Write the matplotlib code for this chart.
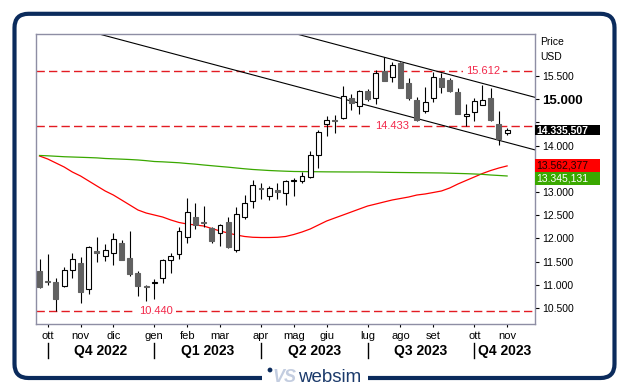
import numpy as np
import matplotlib
matplotlib.use('Agg')
import matplotlib.pyplot as plt
from matplotlib.patches import Rectangle, FancyBboxPatch, Circle
from matplotlib.lines import Line2D
import matplotlib.transforms as mtransforms

plt.rcParams['font.family'] = ['Liberation Sans', 'DejaVu Sans']
plt.rcParams['lines.scale_dashes'] = False

# ---------------- data (weekly candles, Sep 2022 - Nov 2023) ----------------
opens = [11304, 11075, 11060, 10968, 11312, 11463, 10903, 11728, 11614, 11679,
         11909, 11571, 11261, 10965, 11030, 11147, 11528, 11657, 12037, 12467,
         12355, 12224, 12106, 12347, 11756, 12468, 12806, 13095, 12920, 13049,
         12978, 13235, 13229, 13330, 13788, 14461, 14540, 14601, 15026, 14853,
         15177, 15026, 15608, 15472, 15774, 15343, 14983, 14752, 15026, 15451,
         15414, 15162, 14634, 14724, 14866, 15026, 14466, 14263]
highs = [11556, 11664, 11140, 11377, 11692, 11593, 11836, 12024, 11879, 12116,
         11966, 12159, 11297, 11000, 11118, 11556, 11692, 12239, 12864, 12756,
         12692, 12245, 12310, 12455, 12677, 12935, 13259, 13188, 13129, 13188,
         13250, 13295, 13431, 13875, 14336, 14627, 14660, 15284, 15112, 15198,
         15213, 15629, 15903, 15795, 15810, 15451, 15055, 15271, 15586, 15565,
         15465, 15248, 14890, 15026, 15306, 15248, 14737, 14379]
lows = [10940, 10989, 10440, 10960, 11153, 10614, 10795, 11498, 11506, 11433,
        11530, 11190, 10759, 10657, 10688, 11045, 11250, 11550, 11892, 12198,
        12252, 11892, 11830, 11800, 11700, 12412, 12649, 12843, 12828, 12843,
        12713, 12920, 13194, 13302, 13517, 14196, 14265, 14573, 14767, 14681,
        14955, 14897, 15390, 15362, 15240, 14983, 14530, 14698, 14946, 15142,
        15162, 14675, 14429, 14530, 14866, 14540, 14013, 14220]
closes = [10959, 11050, 10687, 11312, 11550, 10851, 11808, 11679, 11744, 11981,
          11541, 11239, 10981, 10955, 11045, 11528, 11621, 12166, 12562, 12280,
          12340, 11950, 12289, 11821, 12519, 12756, 13151, 13070, 13082, 12991,
          13231, 13255, 13345, 13797, 14293, 14552, 14525, 15069, 14909, 15170,
          15011, 15565, 15399, 15737, 15248, 15026, 14552, 14940, 15472, 15270,
          15177, 14681, 14681, 14953, 14983, 14543, 14134, 14336]

ma_red = [13776, 13711, 13625, 13539, 13431, 13345, 13237, 13129, 13022, 12935,
          12828, 12720, 12612, 12547, 12504, 12461, 12397, 12343, 12310, 12289,
          12267, 12213, 12160, 12116, 12073, 12041, 12024, 12019, 12019, 12024,
          12041, 12084, 12138, 12203, 12289, 12375, 12440, 12504, 12569, 12634,
          12698, 12741, 12785, 12828, 12860, 12892, 12935, 12957, 12989, 13022,
          13086, 13172, 13248, 13323, 13399, 13463, 13517, 13562]
ma_green = [13787, 13780, 13770, 13760, 13754, 13748, 13742, 13735, 13722, 13715,
            13708, 13700, 13690, 13675, 13657, 13650, 13640, 13630, 13614, 13600,
            13582, 13566, 13550, 13535, 13517, 13500, 13485, 13474, 13463, 13455,
            13448, 13442, 13440, 13438, 13436, 13434, 13433, 13432, 13431, 13431,
            13431, 13428, 13425, 13422, 13420, 13418, 13416, 13414, 13412, 13410,
            13405, 13400, 13395, 13388, 13380, 13366, 13356, 13345]

last_price = 14335.507
ma_red_last = 13562.377
ma_green_last = 13345.131

levels = [15612, 14433, 10440]

trend_anchor_idx = [7.7, 31.8]
trend_anchor_val = [16384, 16384]
trend_slope = -47.0

month_idx = [1, 5, 9, 14, 18, 22, 27, 31, 35, 40, 44, 48, 53, 57]
month_lbl = ['ott', 'nov', 'dic', 'gen', 'feb', 'mar', 'apr', 'mag', 'giu',
             'lug', 'ago', 'set', 'ott', 'nov']
quarter_start_idx = [1, 14, 27, 40, 53]
quarter_lbl = ['Q4 2022', 'Q1 2023', 'Q2 2023', 'Q3 2023', 'Q4 2023']

yticks = [10500, 11000, 11500, 12000, 12500, 13000, 13500, 14000, 14500, 15000, 15500]
yticks_hidden = [13500, 14500]   # covered by the value boxes in the original


def it_fmt(v, dec=0):
    s = f"{v:,.{dec}f}"
    return s.replace(',', '#').replace('.', ',').replace('#', '.')


# ---------------- figure / layout ----------------
W, H, DPI = 629, 391, 100
fig = plt.figure(figsize=(W / DPI, H / DPI), dpi=DPI)
fig.patch.set_facecolor('white')

AX_L, AX_R, AX_T, AX_B = 35.5, 535, 34, 324
ax = fig.add_axes([AX_L / W, 1 - AX_B / H, (AX_R - AX_L) / W, (AX_B - AX_T) / H])
ax.set_xlim(-0.49, 60.4)
ax.set_ylim(10155, 16405)

frame_col = '#8e8ea4'
for sp in ax.spines.values():
    sp.set_color(frame_col)
    sp.set_linewidth(1.0)

# levels
lvl_col = '#e31b23'
lvl_txt_col = '#f2284a'
level_label_idx = [54.1, 43.0, 14.2]
for lv, lx in zip(levels, level_label_idx):
    ax.axhline(lv, color=lvl_col, lw=1.0, ls=(0, (6, 3)), zorder=1.5)
    ax.text(lx, lv, it_fmt(lv), color=lvl_txt_col, fontsize=8, ha='center', va='center',
            zorder=1.6, bbox=dict(boxstyle='square,pad=0.25', fc='white', ec='none'))

# moving averages
x = np.arange(len(opens))
ax.plot(x, ma_red, color='#ff0000', lw=0.9, zorder=1.8)
ax.plot(x, ma_green, color='#3aa800', lw=0.9, zorder=1.8)

# trend channel
for ai, av in zip(trend_anchor_idx, trend_anchor_val):
    ax.axline((ai, av), slope=trend_slope, color='black', lw=0.8, zorder=1.9)

# candles
bw = 0.6
for i, (o, h, l, c) in enumerate(zip(opens, highs, lows, closes)):
    ax.vlines(i, l, h, color='black', lw=0.8, zorder=2)
    bot = min(o, c)
    ht = max(abs(c - o), 22)
    if c >= o:
        ax.bar(i, ht, bottom=bot, width=bw, facecolor='white', edgecolor='black',
               linewidth=0.8, zorder=3)
    else:
        ax.bar(i, ht, bottom=bot, width=bw, facecolor='#616161', edgecolor='#616161',
               linewidth=0.8, zorder=3)

# y axis on right
ax.yaxis.tick_right()
ax.set_yticks(yticks)
ax.set_yticklabels(['' if v in yticks_hidden else it_fmt(v) for v in yticks])
ax.tick_params(axis='y', direction='out', length=3.2, width=0.8, color='black',
               labelsize=7.5, pad=2)
for t, v in zip(ax.get_yticklabels(), yticks):
    if v == 15000:
        t.set_fontweight('bold')
        t.set_fontsize(9.5)

# x axis
ax.set_xticks(month_idx)
ax.set_xticklabels(month_lbl)
ax.tick_params(axis='x', direction='out', length=2.5, width=0.8, color='black',
               labelsize=8, pad=2.5)

xtr = ax.get_xaxis_transform()
ax_h = AX_B - AX_T
for qi in quarter_start_idx:
    ax.add_line(Line2D([qi, qi], [-(343 - AX_B) / ax_h, -(358 - AX_B) / ax_h],
                       transform=xtr, color='black', lw=1.0, clip_on=False))
q_bounds = quarter_start_idx + [60.4]
for k, ql in enumerate(quarter_lbl):
    cx = (q_bounds[k] + q_bounds[k + 1]) / 2
    ax.text(cx, -(350.5 - AX_B) / ax_h, ql, transform=xtr, ha='center', va='center',
            fontsize=10, fontweight='bold', clip_on=False)

# Price / USD
fig.text(540 / W, 1 - 42 / H, 'Price', fontsize=7.5, ha='left', va='center')
fig.text(540 / W, 1 - 57 / H, 'USD', fontsize=7.5, ha='left', va='center')

# value boxes (figure pixel coords)
fig.canvas.draw()
def ypix(v):
    return ax.transData.transform((0, v))[1]

idt = mtransforms.IdentityTransform()
bx0, bx1 = 535, 600
yb = ypix(last_price)
fig.patches.append(Rectangle((bx0, yb - 5.3), bx1 - bx0, 10.6, transform=idt,
                             facecolor='black', edgecolor='none', zorder=5))
fig.text(bx0 + 1.5, yb, it_fmt(last_price, 3), transform=idt, color='white',
         fontsize=7.5, fontweight='bold', ha='left', va='center', zorder=6)
yr = ypix(ma_red_last)
bh = 12.8
fig.patches.append(Rectangle((bx0, yr - bh / 2), bx1 - bx0, bh, transform=idt,
                             facecolor='#ff0000', edgecolor='none', zorder=5))
fig.text(bx0 + 1.5, yr, it_fmt(ma_red_last, 3), transform=idt, color='#200000',
         fontsize=7.5, ha='left', va='center', zorder=6)
yg = yr - bh
fig.patches.append(Rectangle((bx0, yg - bh / 2), bx1 - bx0, bh, transform=idt,
                             facecolor='#3aa800', edgecolor='none', zorder=5))
fig.text(bx0 + 1.5, yg, it_fmt(ma_green_last, 3), transform=idt, color='white',
         fontsize=7.5, ha='left', va='center', zorder=6)

# outer rounded border
navy = '#0b2b5c'
fig.patches.append(FancyBboxPatch((14.5, H - 378), 600, 378 - 13.8,
                                  boxstyle='round,pad=0,rounding_size=14',
                                  transform=idt, facecolor='none', edgecolor=navy,
                                  linewidth=3.0, zorder=7))
fig.patches.append(Rectangle((262, H - 383), 106, 10, transform=idt,
                             facecolor='white', edgecolor='none', zorder=8))
# logo
fig.patches.append(Circle((270, H - 370), 2.4, transform=idt, facecolor=navy,
                          edgecolor='none', zorder=9))
fig.text(273, H - 378, 'VS', transform=idt, color='#c3cde0', fontsize=13,
         fontweight='bold', style='italic', ha='left', va='center', zorder=9)
fig.text(298, H - 378, 'websim', transform=idt, color='#1b3a6b', fontsize=13.5,
         ha='left', va='center', zorder=9)

fig.savefig('out.png', dpi=DPI, facecolor='white')
